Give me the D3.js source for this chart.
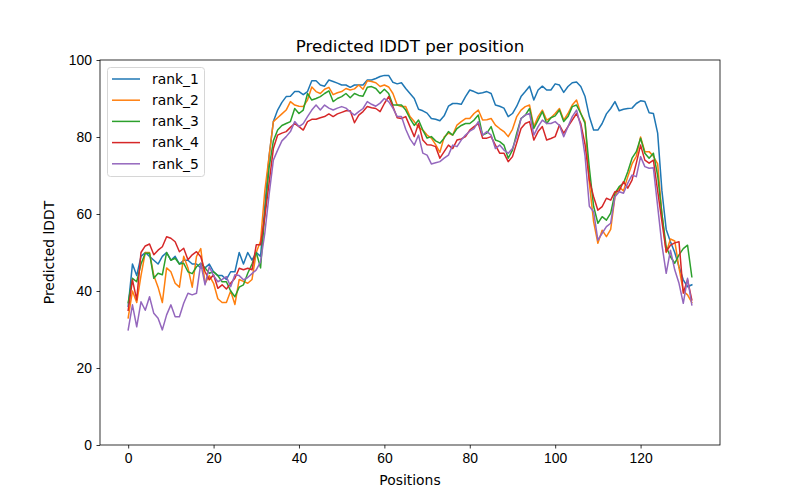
<!DOCTYPE html>
<html>
<head>
<meta charset="utf-8">
<script src="https://cdn.jsdelivr.net/npm/d3@7"></script>
<style>
  body { margin: 0; background: #fff; }
  svg { font-family: "DejaVu Sans", sans-serif; }
  .tick text { font-size: 13.9px; fill: #000; }
  .tick line, .domain { stroke: #000; }
</style>
</head>
<body>
<svg width="800" height="500"></svg>
<script>
// pLDDT per position (positions 0..132)
let rank1 = [
  36, 47, 44, 49, 50, 49, 48, 47, 49, 50,
  48, 49, 47, 48, 48, 47, 47, 46, 46, 47,
  45, 44, 44, 43, 45, 45, 50, 47, 50, 48,
  50, 49, 62, 75, 84, 87, 89, 90.5, 90.6, 91.8,
  91.8, 91, 91.8, 94.6, 94.6, 93.5, 93.2, 94.8, 94.4, 94,
  93.5, 93.5, 92.9, 93.5, 93.5, 93.5, 94.8, 94.8, 95.2, 95.7,
  96, 96, 94.2, 93.8, 94.1, 92.6, 91.3, 90, 87.2, 86.8,
  86.2, 84.8, 84.6, 84.2, 85.5, 88, 88.7, 88.7, 88.5, 90.5,
  92.2, 91.8, 91.3, 91.5, 91.8, 91.3, 88.3, 88, 87.5, 85.3,
  86.1, 88, 90.5, 91.8, 93.2, 89.6, 92.2, 93.2, 92.2, 92.2,
  93.8, 93.5, 91.6, 93.1, 94.1, 94.3, 93.1, 90.5, 85.3, 81.8,
  81.8, 83.5, 86, 87.4, 89.2, 86.8, 87.2, 87.4, 87.5, 88.7,
  89.4, 89.2, 86.3, 86.1, 81, 66, 56, 52.8, 50, 46.3,
  42.9, 41.1, 41.6
]
let rank2 = [
  33, 40, 37, 44, 50, 50, 44, 41, 37, 46,
  45, 42, 41, 49, 46, 41, 49, 51, 42, 44,
  42, 38, 37, 37, 40, 36.5, 43, 42.5, 42, 43,
  50, 53, 66, 75, 84, 85, 86, 87, 89.2, 88.3,
  88, 87.9, 89.6, 93, 91.8, 91.3, 92.4, 92.9, 91, 91.5,
  91.8, 92.6, 92.2, 92.5, 93.5, 92.4, 94.6, 94.4, 94.1, 93.1,
  93.5, 93, 91.3, 88.3, 87.9, 87.9, 85.3, 84, 82.5, 81.8,
  80.5, 79.7, 78, 76, 80, 81, 80.5, 83.1, 84, 84.8,
  84.8, 86.1, 87, 84.4, 84.5, 84.8, 83.1, 82.2, 81.4, 80.1,
  82, 85.3, 87, 87.9, 88.3, 82.7, 85.3, 87, 84.4, 85,
  86.1, 87.4, 84.4, 86.1, 88.3, 89.6, 86.1, 84, 68, 58,
  52.4, 55.8, 54.1, 56, 64.5, 67, 66, 69.7, 73, 75,
  80, 76.2, 76.2, 75, 73, 60, 50, 53.5, 53, 46,
  40, 39, 37
]
let rank3 = [
  37, 43.3, 42.4, 47, 49.8, 49.8, 43.3, 44.6, 44.2, 50,
  48, 48.5, 47, 47.2, 45, 44.5, 46.3, 47.2, 46, 44.6,
  45, 44, 42.4, 42.4, 40, 38.5, 41, 41.6, 44.6, 47,
  50, 46, 60, 72, 79, 81.8, 83, 83.5, 84, 87.4,
  86.1, 87, 91.3, 89.6, 90, 90.5, 91.3, 92, 89.2, 90,
  90.5, 91.3, 90.2, 91.3, 90.8, 90.6, 92.9, 93.1, 92.6, 91.3,
  92.4, 91.3, 88.3, 88.3, 88.3, 87, 84.8, 83, 84.4, 81.8,
  79.7, 80.1, 79, 78.4, 79.7, 81.4, 80.5, 82.2, 83, 83.5,
  83.5, 84.4, 85.7, 80.5, 81, 82.7, 79.2, 78.8, 77.9, 74.5,
  76.6, 81, 84.8, 85.7, 87.4, 82.2, 84.4, 86.6, 83.5, 85,
  85.5, 87, 84, 85.3, 87.9, 88.3, 86.1, 83.5, 72, 62,
  57.6, 59.3, 58.4, 60.2, 65.4, 67.1, 68, 71, 74.5, 76.2,
  79.7, 75.8, 74.5, 75.8, 70, 60, 51.5, 48.9, 47.2, 49.4,
  51, 51.9, 43.7
]
let rank4 = [
  35, 42.9, 37.7, 50, 51.7, 52.2, 49.4, 50.6, 51.5, 54.1,
  53.7, 52.8, 50.2, 51.1, 48.1, 49.4, 50.2, 48.9, 45, 42.9,
  44.2, 40.7, 41.6, 40.5, 42, 43.3, 45.9, 45.5, 45.9, 45.5,
  52, 52, 59.3, 68, 77, 80.5, 81, 81.4, 82.5, 83.5,
  82.7, 81.8, 84, 84.6, 84.6, 85, 85.3, 86, 85.3, 86,
  86.4, 86.8, 86.8, 83.7, 85.7, 86.6, 87.9, 87.6, 87.4, 86.6,
  88.7, 90.5, 87.9, 85, 84.8, 85.3, 82.7, 80.1, 83.5, 79.2,
  78, 77.9, 77.5, 74.5, 76.2, 77.9, 77, 79.2, 79.5, 80.1,
  81.8, 82.7, 83.5, 79.7, 79.7, 80.1, 77.9, 75.8, 75.8, 73.6,
  74.9, 78.5, 82.2, 83.5, 84, 79.2, 81.4, 82.7, 79.2, 79.6,
  80.1, 83.1, 81, 82.7, 84.4, 86.1, 83.5, 78, 68.8, 64.5,
  61, 61.9, 64.1, 63.6, 65.8, 66, 68.4, 66.7, 68.8, 73.2,
  77.9, 74, 73.2, 74, 66, 58, 50.2, 51.9, 52.5, 52.8,
  39.4, 42.9, 37.7
]
let rank5 = [
  29.9, 36.4, 30.7, 37.2, 35, 38.5, 34.2, 32.9, 29.9, 33.8,
  36.4, 33.3, 33.3, 36.8, 39.4, 39, 39.4, 47.2, 41.6, 46.3,
  44, 42.4, 43, 43.7, 41.1, 44.2, 44, 42.9, 43.5, 44.5,
  45.5, 47.6, 55, 65, 74, 76.6, 79, 80.1, 81.4, 84,
  82.7, 83.5, 85.3, 87, 88.3, 87, 88.3, 87.5, 87, 87.5,
  87.9, 87.5, 86.5, 85.7, 86.6, 87.4, 89.2, 88.5, 88, 88.8,
  90, 89.2, 87.5, 85.3, 85.3, 82, 79.5, 77.9, 80.5, 75.8,
  75.3, 73, 73.3, 73.6, 74.5, 75.3, 77.9, 77.5, 79.2, 80.5,
  81.5, 82.2, 84, 80.5, 81.4, 80.5, 77, 77.9, 76.6, 75.8,
  77, 80, 84.8, 85.7, 86.1, 80.5, 82.7, 84.4, 83.5, 83.5,
  84, 83, 80.1, 82.7, 85.3, 87, 82.7, 75, 62, 60.6,
  53.2, 55, 56.7, 57.6, 64.5, 65.8, 65.4, 68, 70.1, 69.7,
  74.9, 72.3, 71.9, 72, 62, 52, 44.6, 50.6, 45.5, 42,
  36.8, 43.3, 36.4
]

let names = ['rank_1', 'rank_2', 'rank_3', 'rank_4', 'rank_5']
let colors = ['#1f77b4', '#ff7f0e', '#2ca02c', '#d62728', '#9467bd']
let xTicks = [0, 20, 40, 60, 80, 100, 120]
let yTicks = [0, 20, 40, 60, 80, 100]

let series = [rank1, rank2, rank3, rank4, rank5]

let plotLeft = 100
let plotRight = 720
let plotTop = 60
let plotBottom = 445

let svg = d3.select('svg')

let n = rank1.length - 1
let pad = n * 0.05

let xScale = d3.scaleLinear()
    .domain([-pad, n + pad])
    .range([plotLeft, plotRight])

let yScale = d3.scaleLinear()
    .domain([0, 100])
    .range([plotBottom, plotTop])

// lines
let line = d3.line()
    .x((d, i) => xScale(i))
    .y((d) => yScale(d))

svg.append('g')
    .selectAll('path')
    .data(series)
    .enter()
    .append('path')
    .attr('d', (d) => line(d))
    .attr('fill', 'none')
    .attr('stroke', (d, i) => colors[i])
    .attr('stroke-width', 1.5)
    .attr('stroke-linejoin', 'round')
    .attr('stroke-linecap', 'square')

// axes
let xAxis = d3.axisBottom(xScale)
    .tickValues(xTicks)
    .tickSize(3.5)
    .tickPadding(4.5)
    .tickSizeOuter(0)

svg.append('g')
    .attr('transform', 'translate(0,' + plotBottom + ')')
    .call(xAxis)
    .call((g) => g.select('.domain').remove())

let yAxis = d3.axisLeft(yScale)
    .tickValues(yTicks)
    .tickSize(3.5)
    .tickPadding(4.5)
    .tickSizeOuter(0)

svg.append('g')
    .attr('transform', 'translate(' + plotLeft + ',0)')
    .call(yAxis)
    .call((g) => g.select('.domain').remove())

svg.selectAll('.tick line').attr('stroke-width', 0.8)

// frame
svg.append('rect')
    .attr('x', plotLeft)
    .attr('y', plotTop)
    .attr('width', plotRight - plotLeft)
    .attr('height', plotBottom - plotTop)
    .attr('fill', 'none')
    .attr('stroke', '#000')
    .attr('stroke-width', 0.8)

// titles
svg.append('text')
    .attr('x', (plotLeft + plotRight) / 2)
    .attr('y', plotTop - 8)
    .attr('text-anchor', 'middle')
    .style('font-size', '16.7px')
    .text('Predicted lDDT per position')

svg.append('text')
    .attr('x', (plotLeft + plotRight) / 2)
    .attr('y', 485)
    .attr('text-anchor', 'middle')
    .style('font-size', '13.9px')
    .text('Positions')

svg.append('text')
    .attr('transform', 'translate(54,' + ((plotTop + plotBottom) / 2) + ') rotate(-90)')
    .attr('text-anchor', 'middle')
    .style('font-size', '13.9px')
    .text('Predicted lDDT')

// legend
let legend = svg.append('g')

legend.append('rect')
    .attr('x', 107.5)
    .attr('y', 67.5)
    .attr('width', 97)
    .attr('height', 109)
    .attr('rx', 3)
    .attr('fill', '#fff')
    .attr('fill-opacity', 0.8)
    .attr('stroke', '#d6d6d6')
    .attr('stroke-width', 1)

let rows = legend.selectAll('g.row')
    .data(names)
    .enter()
    .append('g')
    .attr('class', 'row')
    .attr('transform', (d, i) => 'translate(0,' + (79 + i * 21.2) + ')')

rows.append('line')
    .attr('x1', 112)
    .attr('x2', 140)
    .attr('stroke', (d, i) => colors[i])
    .attr('stroke-width', 1.5)

rows.append('text')
    .attr('x', 152)
    .attr('dy', '0.35em')
    .style('font-size', '13.9px')
    .text((d) => d)
</script>
</body>
</html>
